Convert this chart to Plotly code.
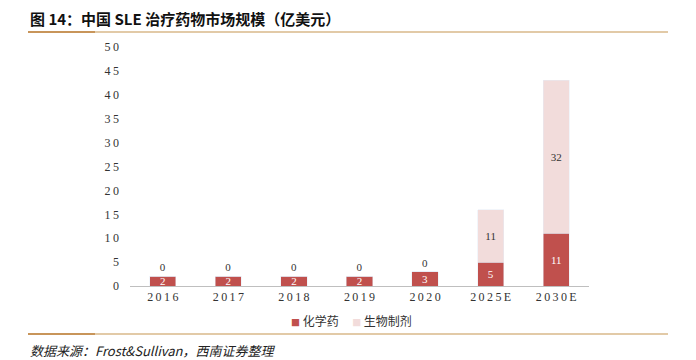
import plotly.graph_objects as go

categories = ["2016", "2017", "2018", "2019", "2020", "2025E", "2030E"]
chem = [2, 2, 2, 2, 3, 5, 11]
bio = [0, 0, 0, 0, 0, 11, 32]
y_ticks = [0, 5, 10, 15, 20, 25, 30, 35, 40, 45, 50]
series_names = ["化学药", "生物制剂"]

# page body adds an 8px margin; the figure is sized to fill the rest of the window
OFF = 8
W, H = 696 - OFF, 360 - OFF
def px(x): return (x - OFF) / W
def py(y): return (H - (y - OFF)) / H

CHEM_COLOR = "#C0504D"
BIO_COLOR = "#F2DCDB"
serif = "Liberation Serif, Times New Roman, serif"
cjk = "Noto Sans CJK SC, sans-serif"

# letter-spaced tick labels (thin spaces between characters)
def spaced(s):
    return "\u2009".join(list(s))

fig = go.Figure()
fig.add_trace(go.Bar(
    x=categories, y=chem, name=series_names[0], marker_color=CHEM_COLOR,
    text=[str(v) for v in chem], textposition="inside", insidetextanchor="middle",
    textangle=0,
    textfont=dict(color="white", size=11, family=serif), constraintext="none",
    width=0.4,
))
fig.add_trace(go.Bar(
    x=categories, y=bio, name=series_names[1], marker_color=BIO_COLOR,
    text=[str(v) for v in bio],
    textposition=["outside" if v == 0 else "inside" for v in bio],
    insidetextanchor="middle", textangle=0,
    textfont=dict(color="#333333", size=11, family=serif), constraintext="none",
    cliponaxis=False, width=0.4,
))

legend_text = (f"<span style='color:{CHEM_COLOR};font-size:9px'>■</span> {series_names[0]}"
               f"&nbsp;&nbsp;&nbsp;&nbsp;&nbsp;<span style='color:{BIO_COLOR};font-size:9px'>■</span> {series_names[1]}")

fig.update_layout(
    width=W, height=H, barmode="stack",
    margin=dict(l=0, r=0, t=0, b=0, autoexpand=False),
    paper_bgcolor="white", plot_bgcolor="white",
    showlegend=False,
    xaxis=dict(domain=[px(130), px(589)], showline=True, linecolor="#BFBFBF", linewidth=1,
               ticks="", tickfont=dict(family=serif, size=12, color="#333333"),
               tickvals=categories, ticktext=[spaced(c) for c in categories],
               showgrid=False, automargin=False),
    yaxis=dict(domain=[py(286), py(47)], range=[0, 50], tickvals=y_ticks,
               ticktext=[spaced(str(v)) for v in y_ticks], showline=False,
               showgrid=False, zeroline=False, ticks="", automargin=False,
               tickfont=dict(family=serif, size=12, color="#333333"), ticklabelstandoff=10),
    annotations=[
        dict(text="<b>图 14：中国 SLE 治疗药物市场规模（亿美元）</b>", xref="paper", yref="paper",
             x=px(28), y=py(18), xanchor="left", yanchor="middle", showarrow=False,
             font=dict(family=cjk, size=15, color="#111111")),
        dict(text="<i>数据来源：Frost&Sullivan，西南证券整理</i>", xref="paper", yref="paper",
             x=px(28), y=py(350), xanchor="left", yanchor="middle", showarrow=False,
             font=dict(family=cjk, size=13, color="#222222")),
        dict(text=legend_text, xref="paper", yref="paper",
             x=px(351), y=py(320), xanchor="center", yanchor="middle", showarrow=False,
             font=dict(family=cjk, size=12, color="#333333")),
    ],
    shapes=[
        dict(type="line", xref="paper", yref="paper", x0=px(28), x1=px(668), y0=py(32), y1=py(32),
             line=dict(color="#D9B88A", width=1.5)),
        dict(type="line", xref="paper", yref="paper", x0=px(28), x1=px(95), y0=py(32), y1=py(32),
             line=dict(color="#C8955A", width=2)),
        dict(type="line", xref="paper", yref="paper", x0=px(28), x1=px(668), y0=py(334), y1=py(334),
             line=dict(color="#D9B88A", width=1.5)),
        dict(type="line", xref="paper", yref="paper", x0=px(28), x1=px(95), y0=py(334), y1=py(334),
             line=dict(color="#C8955A", width=2)),
    ],
)

fig.write_html("out.html")
